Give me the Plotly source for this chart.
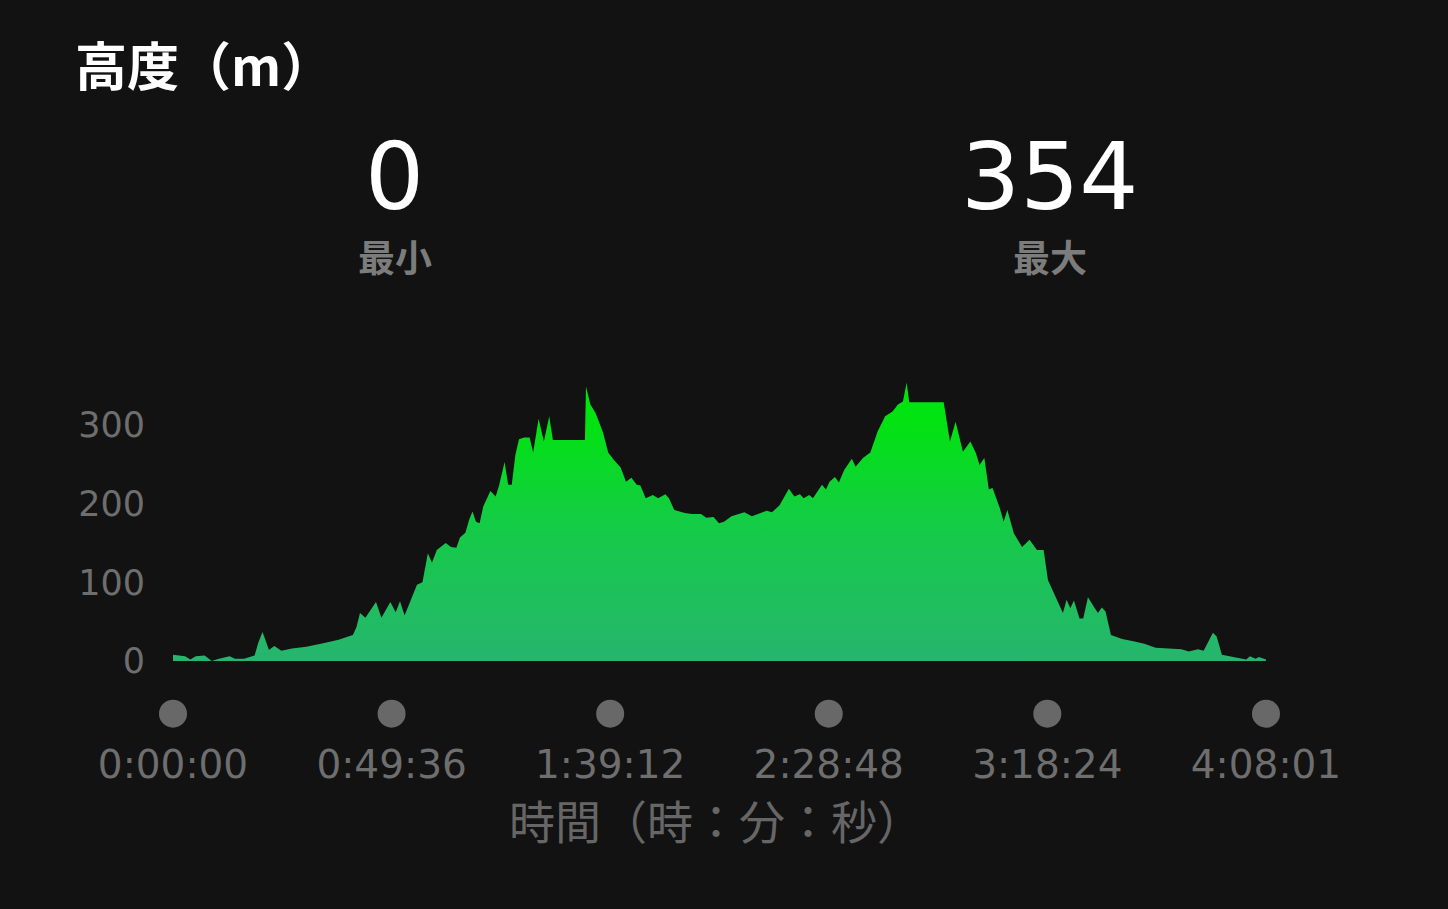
import plotly.graph_objects as go

# elapsed time (minutes) and altitude (m)
time_min = [
    0, 2.72, 3.95, 5.15, 7.17, 8.80, 10.42, 12.84, 14.07, 16.11,
    18.52, 19.33, 20.31, 21.19, 21.78, 22.99, 24.60, 27.00, 30.27, 34.33,
    37.58, 40.82, 41.62, 42.43, 43.66, 46.06, 47.29, 49.33, 50.53, 51.51,
    52.55, 55.36, 56.61, 57.84, 58.77, 59.86, 61.88, 63.08, 64.31, 65.12,
    66.35, 67.16, 67.96, 68.75, 69.57, 70.38, 72.02, 73.22, 74.04, 75.24,
    76.06, 76.87, 77.69, 78.51, 79.71, 80.92, 81.73, 82.96, 84.16, 85.38,
    86.20, 93.48, 93.71, 94.71, 95.91, 97.55, 98.75, 99.97, 101.58, 102.79,
    104.01, 105.24, 106.05, 107.26, 108.89, 110.09, 111.73, 112.54, 113.75, 116.17,
    117.76, 119.80, 121.03, 122.66, 123.89, 125.02, 126.73, 129.66, 131.36, 134.72,
    135.92, 137.64, 139.75, 141.00, 142.27, 143.11, 144.38, 145.22, 147.26, 148.17,
    148.99, 150.21, 151.10, 152.34, 154.05, 154.89, 156.56, 158.24, 159.92, 161.60,
    163.28, 164.51, 165.64, 166.48, 167.07, 174.88, 175.47, 176.31, 177.58, 179.26,
    180.94, 182.21, 183.02, 184.11, 185.13, 185.97, 187.65, 188.49, 189.33, 190.82,
    192.68, 194.36, 196.04, 197.56, 198.54, 200.67, 201.94, 202.78, 203.62, 204.44,
    205.71, 206.55, 207.62, 209.07, 209.89, 210.77, 211.61, 212.84, 215.38, 217.90,
    220.42, 222.96, 225.48, 228.83, 230.51, 232.58, 233.87, 235.07, 235.98, 236.82,
    238.02, 240.59, 243.54, 244.38, 245.65, 246.42, 248.02,
]
elev_m = [
    8, 6, 2, 6, 7, 0, 3, 6, 3, 3,
    7, 23, 37, 23, 14, 19, 13, 16, 18, 23,
    27, 33, 43, 61, 55, 75, 55, 75, 62, 76,
    58, 97, 100, 137, 125, 141, 150, 145, 144, 157,
    163, 179, 190, 177, 175, 196, 216, 209, 224, 253,
    224, 224, 262, 282, 284, 284, 265, 308, 279, 311,
    281, 281, 349, 326, 315, 291, 265, 256, 246, 228,
    233, 224, 223, 207, 211, 207, 212, 207, 192, 188,
    187, 187, 182, 183, 175, 177, 184, 189, 184, 191,
    189, 198, 219, 209, 212, 207, 211, 207, 224, 218,
    228, 234, 227, 243, 257, 247, 258, 265, 292, 311,
    317, 326, 330, 354, 329, 329, 307, 279, 304, 266,
    279, 264, 249, 258, 218, 220, 194, 177, 192, 162,
    145, 154, 141, 141, 103, 78, 61, 78, 67, 77,
    54, 54, 81, 68, 61, 68, 63, 33, 28, 25,
    22, 17, 16, 15, 12, 15, 13, 25, 36, 31,
    8, 5, 2, 6, 3, 5, 2,
]

tick_min = [0, 49.6, 99.2, 148.8, 198.4, 248.02]
tick_labels = ["0:00:00", "0:49:36", "1:39:12", "2:28:48", "3:18:24", "4:08:01"]
y_ticks = [0, 100, 200, 300]

BG = "#121212"
GRAY = "#6e6e6e"
NUM_FONT = "DejaVu Sans"
CJK_FONT = "Noto Sans CJK JP"

fig = go.Figure()

# elevation area with vertical green gradient
fig.add_trace(go.Scatter(
    x=time_min, y=elev_m,
    mode="lines",
    line=dict(width=0, color="#1fc55a"),
    fill="tozeroy",
    fillgradient=dict(type="vertical",
                      colorscale=[[0, "#26b56f"], [0.5, "#14cc45"], [0.85, "#02e212"], [1, "#00e60c"]]),
    hoverinfo="skip",
    showlegend=False,
))

# grey dots sitting above each time tick
fig.add_trace(go.Scatter(
    x=tick_min, y=[-67] * len(tick_min),
    mode="markers",
    marker=dict(size=28, color="#686868"),
    hoverinfo="skip",
    showlegend=False,
))

fig.update_xaxes(
    range=[-5.22, 253.47],
    tickvals=tick_min, ticktext=tick_labels,
    tickfont=dict(family=NUM_FONT, size=39, color=GRAY),
    showgrid=False, zeroline=False, showline=False, ticks="",
    ticklabelstandoff=8,
)
fig.update_yaxes(
    range=[-87.7, 369.9],
    tickvals=y_ticks,
    tickfont=dict(family=NUM_FONT, size=35, color=GRAY),
    showgrid=False, zeroline=False, showline=False, ticks="",
    ticklabelstandoff=4,
)

# header texts
annotations = [
    dict(text="<b>高度（m）</b>", x=-0.0675, y=1.85, xanchor="left",
         font=dict(family=CJK_FONT, size=52, color="white")),
    dict(text=str(min(elev_m)), x=0.2149, y=1.536,
         font=dict(family=NUM_FONT, size=93, color="white")),
    dict(text="<b>最小</b>", x=0.2149, y=1.317,
         font=dict(family=CJK_FONT, size=37, color="#7c7c7c")),
    dict(text=str(max(elev_m)), x=0.7895, y=1.536,
         font=dict(family=NUM_FONT, size=93, color="white")),
    dict(text="<b>最大</b>", x=0.7895, y=1.317,
         font=dict(family=CJK_FONT, size=37, color="#7c7c7c")),
    dict(text="時間（時：分：秒）", x=0.4965, y=-0.248,
         font=dict(family=CJK_FONT, size=46, color="#666666")),
]
for a in annotations:
    a.update(xref="paper", yref="paper", showarrow=False, yanchor="middle")
    a.setdefault("xanchor", "center")

fig.update_layout(
    width=1448, height=909,
    margin=dict(l=150, r=158, t=370, b=179),
    paper_bgcolor=BG, plot_bgcolor=BG,
    annotations=annotations,
)

fig.write_html("out.html", config={"displayModeBar": False},
               post_script="document.body.style.margin='0';document.body.style.background='#121212';")
